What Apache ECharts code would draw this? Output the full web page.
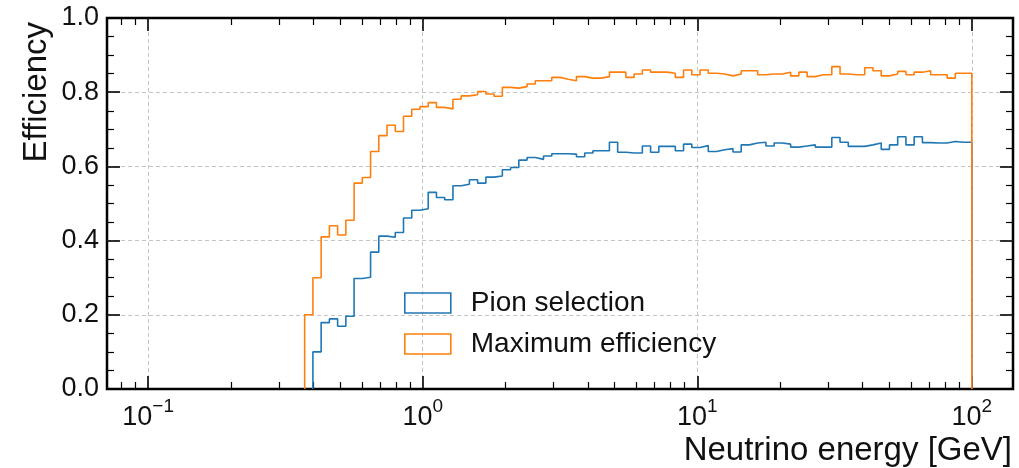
<!DOCTYPE html>
<html>
<head>
<meta charset="utf-8">
<script src="https://cdn.jsdelivr.net/npm/echarts@6/dist/echarts.min.js"></script>
<style>
  html, body { margin: 0; padding: 0; background: #fff; }
  #chart { width: 1019px; height: 468px; }
</style>
</head>
<body>
<div id="chart"></div>
<script>
// Histogram binning: 100 logarithmic bins between 0.1 and 100 GeV
const binLow = 0.1;
const binHigh = 100;
const binCount = 100;

// Efficiency per bin, starting at the first populated bin
const maxEffFirstBin = 19;
const maxEfficiency = [
  0.200, 0.300, 0.410, 0.440, 0.415, 0.455, 0.555, 0.570, 0.640, 0.683,
  0.711, 0.694, 0.735, 0.754, 0.761, 0.772, 0.759, 0.755, 0.781, 0.790,
  0.793, 0.802, 0.795, 0.789, 0.813, 0.811, 0.815, 0.822, 0.831, 0.831,
  0.840, 0.835, 0.831, 0.842, 0.838, 0.838, 0.842, 0.854, 0.854, 0.840,
  0.849, 0.860, 0.854, 0.854, 0.851, 0.840, 0.860, 0.847, 0.860, 0.851,
  0.849, 0.844, 0.849, 0.858, 0.858, 0.847, 0.849, 0.849, 0.854, 0.844,
  0.854, 0.842, 0.847, 0.847, 0.869, 0.849, 0.847, 0.847, 0.866, 0.858,
  0.844, 0.849, 0.856, 0.847, 0.854, 0.858, 0.847, 0.847, 0.838, 0.851,
  0.851
];

const pionFirstBin = 20;
const pionSelection = [
  0.100, 0.179, 0.189, 0.169, 0.196, 0.298, 0.301, 0.369, 0.412, 0.409,
  0.422, 0.461, 0.482, 0.486, 0.530, 0.516, 0.510, 0.548, 0.552, 0.564,
  0.555, 0.571, 0.574, 0.591, 0.597, 0.617, 0.624, 0.619, 0.628, 0.634,
  0.634, 0.633, 0.626, 0.636, 0.642, 0.642, 0.665, 0.638, 0.636, 0.636,
  0.655, 0.638, 0.654, 0.654, 0.642, 0.660, 0.651, 0.656, 0.640, 0.645,
  0.648, 0.639, 0.658, 0.663, 0.665, 0.655, 0.663, 0.660, 0.652, 0.655,
  0.658, 0.652, 0.652, 0.678, 0.665, 0.654, 0.654, 0.658, 0.663, 0.646,
  0.658, 0.680, 0.658, 0.680, 0.664, 0.663, 0.663, 0.667, 0.665, 0.665
];

// Axis ticks (x axis is log10 of the energy)
const xMajorExponents = [-1, 0, 1, 2];
const xMinorMultipliers = [2, 3, 4, 5, 6, 7, 8, 9];
const yTickStep = 0.2;

const xMin = -1.15;
const xMax = 2.15;

const BLUE = '#1f77b4';
const ORANGE = '#ff7f0e';
const FONT = 'Liberation Sans, Arial, sans-serif';

function edgeLog(i) {
  const lo = Math.log10(binLow), hi = Math.log10(binHigh);
  return lo + (hi - lo) * i / binCount;
}

// Outline of a step histogram: rise from zero, one flat top per bin, drop back to zero
function stepOutline(values, firstBin) {
  const pts = [[edgeLog(firstBin), 0]];
  values.forEach((v, k) => pts.push([edgeLog(firstBin + k), v]));
  const end = edgeLog(firstBin + values.length);
  pts.push([end, values[values.length - 1]]);
  pts.push([end, 0]);
  return pts;
}

const minorPositions = [];
for (let d = -2; d <= 2; d++) {
  xMinorMultipliers.forEach(m => {
    const p = Math.log10(m) + d;
    if (p > xMin && p < xMax) minorPositions.push(p);
  });
}

const supText = e => (e < 0 ? '\u2212' + (-e) : String(e));

const tickColor = '#000';
const noLine = { show: false, onZero: false };
const majorTick = { show: true, inside: true, length: 13, lineStyle: { color: tickColor, width: 1.6 } };
const minorTickStyle = { show: true, inside: true, length: 7, lineStyle: { color: tickColor, width: 1.2 } };
const gridLine = { show: true, lineStyle: { color: '#c4c4c4', type: [4, 3], width: 1 } };

const chart = echarts.init(document.getElementById('chart'), null, { renderer: 'canvas' });

chart.setOption({
  animation: false,
  backgroundColor: '#fff',
  textStyle: { fontFamily: FONT },
  grid: {
    left: 107, right: 6, top: 18, bottom: 79,
    show: true, borderColor: '#000', borderWidth: 2.5, backgroundColor: 'transparent'
  },
  legend: {
    orient: 'vertical',
    left: 404, top: 289, padding: 0,
    itemWidth: 46, itemHeight: 20, itemGap: 13,
    textStyle: { fontSize: 28, color: '#111', fontFamily: FONT, lineHeight: 28, padding: [0, 0, 0, 15] },
    data: [
      { name: 'Pion selection', icon: 'rect',
        itemStyle: { color: 'rgba(0,0,0,0)', borderColor: BLUE, borderWidth: 1.6 } },
      { name: 'Maximum efficiency', icon: 'rect',
        itemStyle: { color: 'rgba(0,0,0,0)', borderColor: ORANGE, borderWidth: 1.6 } }
    ]
  },
  xAxis: [
    {
      type: 'value', position: 'bottom', min: xMin, max: xMax,
      axisLine: noLine,
      axisTick: Object.assign({ customValues: xMajorExponents }, majorTick),
      splitLine: gridLine,
      name: 'Neutrino energy [GeV]',
      nameLocation: 'end', nameGap: -1, nameMoveOverlap: false,
      nameTextStyle: { fontSize: 33, color: '#111', fontFamily: FONT, align: 'right', verticalAlign: 'top', padding: [45, 0, 0, 0] },
      axisLabel: {
        customValues: xMajorExponents,
        margin: 8,
        color: '#111',
        formatter: v => '{b|10}{s|' + supText(Math.round(v)) + '}',
        rich: {
          b: { fontSize: 27, fontFamily: FONT, color: '#111', verticalAlign: 'bottom', lineHeight: 34 },
          s: { fontSize: 19, fontFamily: FONT, color: '#111', verticalAlign: 'top', lineHeight: 20 }
        }
      }
    },
    {
      type: 'value', position: 'bottom', min: xMin, max: xMax,
      axisLine: noLine, axisLabel: { show: false }, splitLine: { show: false },
      axisTick: Object.assign({ customValues: minorPositions }, minorTickStyle)
    },
    {
      type: 'value', position: 'top', min: xMin, max: xMax,
      axisLine: noLine, axisLabel: { show: false }, splitLine: { show: false },
      axisTick: Object.assign({ customValues: xMajorExponents }, majorTick)
    },
    {
      type: 'value', position: 'top', min: xMin, max: xMax,
      axisLine: noLine, axisLabel: { show: false }, splitLine: { show: false },
      axisTick: Object.assign({ customValues: minorPositions }, minorTickStyle)
    }
  ],
  yAxis: [
    {
      type: 'value', position: 'left', min: 0, max: 1, interval: yTickStep,
      axisLine: noLine,
      axisTick: majorTick,
      minorTick: { show: true, splitNumber: 4, length: 7, lineStyle: { color: tickColor, width: 1.2 } },
      splitLine: Object.assign({ showMinLine: false, showMaxLine: false }, gridLine),
      axisLabel: { fontSize: 27, color: '#111', margin: 8, fontFamily: FONT, formatter: v => v.toFixed(1) },
      name: 'Efficiency',
      nameLocation: 'end', nameRotate: 90, nameGap: -4, nameMoveOverlap: false,
      nameTextStyle: { fontSize: 33, color: '#111', fontFamily: FONT, align: 'right', verticalAlign: 'bottom', padding: [0, 0, 54, 0] }
    },
    {
      type: 'value', position: 'right', min: 0, max: 1, interval: yTickStep,
      axisLine: noLine, axisLabel: { show: false }, splitLine: { show: false },
      axisTick: majorTick,
      minorTick: { show: true, splitNumber: 4, length: 7, lineStyle: { color: tickColor, width: 1.2 } }
    }
  ],
  series: [
    {
      name: 'Pion selection', type: 'line', step: 'end',
      xAxisIndex: 0, yAxisIndex: 0,
      showSymbol: false, symbol: 'none',
      lineStyle: { color: BLUE, width: 1.6 },
      itemStyle: { color: BLUE },
      data: stepOutline(pionSelection, pionFirstBin)
    },
    {
      name: 'Maximum efficiency', type: 'line', step: 'end',
      xAxisIndex: 0, yAxisIndex: 0,
      showSymbol: false, symbol: 'none',
      lineStyle: { color: ORANGE, width: 1.6 },
      itemStyle: { color: ORANGE },
      data: stepOutline(maxEfficiency, maxEffFirstBin)
    }
  ]
});
</script>
</body>
</html>
